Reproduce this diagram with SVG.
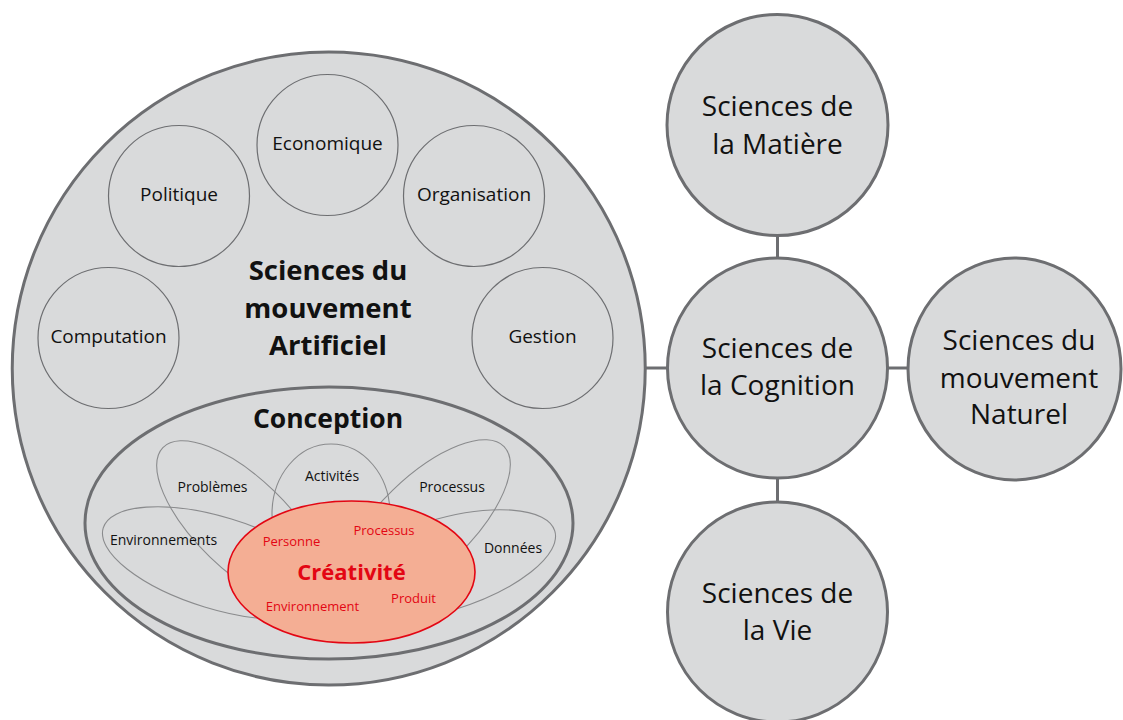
<svg xmlns="http://www.w3.org/2000/svg" width="1123" height="720" viewBox="0 0 1123 720">
<style>
.big{fill:#d9dadb;stroke:#6d6e71;stroke-width:3}
.sm{fill:none;stroke:#6d6e71;stroke-width:1.2}
.pet{fill:none;stroke:#8a8b8d;stroke-width:1.1}
.con{stroke:#6d6e71;stroke-width:3;fill:none}
.t{font-family:"Open Sans","Liberation Sans",sans-serif;fill:#111;text-anchor:middle}
.b{font-weight:bold}
.r{fill:#e30613}
</style>
<rect width="1123" height="720" fill="#ffffff"/>
<g id="connectors">
<line class="con" x1="645" y1="368" x2="668" y2="368"/>
<line class="con" x1="887" y1="368" x2="908" y2="368"/>
<line class="con" x1="777.5" y1="235" x2="777.5" y2="258"/>
<line class="con" x1="777.5" y1="478" x2="777.5" y2="502"/>
</g>
<g id="artificiel">
<circle class="big" cx="328.75" cy="368.5" r="316.5"/>
<text class="t b" font-size="27.5"><tspan x="328" y="280">Sciences du</tspan><tspan x="328" y="317.5">mouvement</tspan><tspan x="328" y="355">Artificiel</tspan></text>
</g>
<g id="economique"><circle class="sm" cx="327.5" cy="145" r="70.5"/><text class="t" font-size="19" x="327.5" y="150">Economique</text></g>
<g id="politique"><circle class="sm" cx="179" cy="196" r="70.5"/><text class="t" font-size="19" x="179" y="201">Politique</text></g>
<g id="organisation"><circle class="sm" cx="474" cy="196" r="70.5"/><text class="t" font-size="19" x="474" y="201">Organisation</text></g>
<g id="computation"><circle class="sm" cx="108.5" cy="338" r="70.5"/><text class="t" font-size="19" x="108.5" y="343">Computation</text></g>
<g id="gestion"><circle class="sm" cx="542.5" cy="338" r="70.5"/><text class="t" font-size="19" x="542.5" y="343">Gestion</text></g>
<g id="conception">
<ellipse class="big" cx="329" cy="523" rx="244" ry="136"/>
<text class="t b" font-size="26.5" x="328" y="428">Conception</text>
</g>
<g id="petales">
<ellipse class="pet" cx="242" cy="524" rx="110" ry="46" transform="rotate(44 242 524)"/>
<ellipse class="pet" cx="331" cy="514" rx="59" ry="70"/>
<ellipse class="pet" cx="425" cy="523" rx="110" ry="46" transform="rotate(-44 425 523)"/>
<ellipse class="pet" cx="218" cy="563" rx="120" ry="46" transform="rotate(17 218 563)"/>
<ellipse class="pet" cx="440" cy="566" rx="120" ry="46" transform="rotate(-17 440 566)"/>
</g>
<g id="problemes"><text class="t" font-size="14" x="212.5" y="492">Problèmes</text></g>
<g id="activites"><text class="t" font-size="14" x="332" y="481">Activités</text></g>
<g id="processus"><text class="t" font-size="14" x="452" y="492">Processus</text></g>
<g id="environnements"><text class="t" font-size="14" x="163.5" y="545">Environnements</text></g>
<g id="donnees"><text class="t" font-size="14" x="513" y="553">Données</text></g>
<g id="creativite">
<ellipse cx="351.5" cy="572" rx="123.5" ry="71" fill="#f4ae94" stroke="#e30613" stroke-width="1.6"/>
<text class="t b r" font-size="22" x="351.5" y="580">Créativité</text>
<text class="t r" font-size="13" x="291.5" y="546">Personne</text>
<text class="t r" font-size="13" x="384" y="535">Processus</text>
<text class="t r" font-size="13" x="312.5" y="611">Environnement</text>
<text class="t r" font-size="13" x="413.5" y="603">Produit</text>
</g>
<g id="matiere"><circle class="big" cx="777.5" cy="125" r="110.5"/><text class="t" font-size="28"><tspan x="777.5" y="116">Sciences de</tspan><tspan x="777.5" y="154">la Matière</tspan></text></g>
<g id="cognition"><circle class="big" cx="777.5" cy="368" r="110"/><text class="t" font-size="28"><tspan x="777.5" y="358">Sciences de</tspan><tspan x="777.5" y="395">la Cognition</tspan></text></g>
<g id="naturel"><ellipse class="big" cx="1014.5" cy="369" rx="106.5" ry="111"/><text class="t" font-size="28"><tspan x="1019" y="350">Sciences du</tspan><tspan x="1019" y="388">mouvement</tspan><tspan x="1019" y="424">Naturel</tspan></text></g>
<g id="vie"><circle class="big" cx="777.5" cy="612" r="110"/><text class="t" font-size="28"><tspan x="777.5" y="603">Sciences de</tspan><tspan x="777.5" y="640">la Vie</tspan></text></g>
</svg>
